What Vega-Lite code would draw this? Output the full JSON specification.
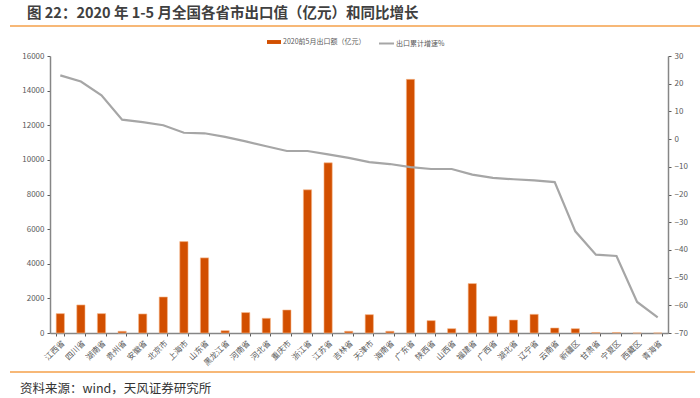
{
  "$schema": "https://vega.github.io/schema/vega-lite/v6.json",
  "width": 618,
  "height": 277,
  "autosize": {"type": "none"},
  "padding": {"left": 50, "top": 56, "right": 32, "bottom": 65},
  "background": "white",
  "config": {
    "view": {"stroke": null},
    "font": "Noto Sans CJK SC",
    "axis": {"labelFont": "Noto Sans CJK SC", "labelColor": "#595959", "labelFontSize": 8, "domainColor": "#868686", "domainWidth": 1.5, "tickColor": "#595959", "tickSize": 3, "grid": false, "title": null},
    "legend": {"labelFont": "Noto Sans CJK SC", "labelFontSize": 7, "labelColor": "#595959", "padding": 0, "title": null}
  },
  "title": {
    "text": "图 22：2020 年 1-5 月全国各省市出口值（亿元）和同比增长",
    "anchor": "start",
    "frame": "group",
    "dx": -23,
    "dy": 14,
    "offset": 11,
    "baseline": "middle",
    "fontSize": 14.5,
    "fontWeight": "bold",
    "color": "#404040",
    "font": "Noto Sans CJK SC"
  },
  "data": {
    "values": [
      {"province": "江西省", "export": 1120, "growth": 23.0},
      {"province": "四川省", "export": 1620, "growth": 20.8},
      {"province": "湖南省", "export": 1120, "growth": 15.8},
      {"province": "贵州省", "export": 100, "growth": 7.0},
      {"province": "安徽省", "export": 1100, "growth": 6.1},
      {"province": "北京市", "export": 2080, "growth": 5.0},
      {"province": "上海市", "export": 5280, "growth": 2.3},
      {"province": "山东省", "export": 4340, "growth": 2.1},
      {"province": "黑龙江省", "export": 135, "growth": 0.8},
      {"province": "河南省", "export": 1180, "growth": -0.8},
      {"province": "河北省", "export": 850, "growth": -2.6},
      {"province": "重庆市", "export": 1330, "growth": -4.3},
      {"province": "浙江省", "export": 8270, "growth": -4.3},
      {"province": "江苏省", "export": 9830, "growth": -5.5},
      {"province": "吉林省", "export": 100, "growth": -6.8},
      {"province": "天津市", "export": 1060, "growth": -8.3},
      {"province": "海南省", "export": 100, "growth": -9.0},
      {"province": "广东省", "export": 14650, "growth": -10.1},
      {"province": "陕西省", "export": 715, "growth": -10.8},
      {"province": "山西省", "export": 250, "growth": -10.8},
      {"province": "福建省", "export": 2855, "growth": -12.8},
      {"province": "广西省", "export": 965, "growth": -14.0},
      {"province": "湖北省", "export": 750, "growth": -14.5},
      {"province": "辽宁省", "export": 1080, "growth": -14.9},
      {"province": "云南省", "export": 290, "growth": -15.5},
      {"province": "新疆区", "export": 250, "growth": -33.3},
      {"province": "甘肃省", "export": 30, "growth": -41.7},
      {"province": "宁夏区", "export": 30, "growth": -42.2},
      {"province": "西藏区", "export": 3, "growth": -58.8},
      {"province": "青海省", "export": 3, "growth": -64.4}
    ]
  },
  "layer": [
    {
      "mark": {"type": "bar", "stroke": "#F7B98C", "strokeWidth": 0.6},
      "encoding": {
        "x": {"field": "province", "type": "nominal", "sort": null,
          "scale": {"paddingInner": 0.6, "paddingOuter": 0.3},
          "axis": {"labelAngle": -45, "tickBand": "extent", "labelPadding": 3}},
        "y": {"field": "export", "type": "quantitative",
          "scale": {"domain": [0, 16000], "nice": false},
          "axis": {"orient": "left", "format": "d", "values": [0, 2000, 4000, 6000, 8000, 10000, 12000, 14000, 16000], "labelPadding": 3}},
        "fill": {"datum": "2020前5月出口额（亿元）", "type": "nominal",
          "scale": {"range": ["#D24F00"]},
          "legend": {"orient": "none", "legendX": 217, "legendY": -21, "symbolType": "M-1,-0.28H1V0.28H-1Z", "symbolSize": 196, "symbolStrokeWidth": 0, "labelOffset": 2}}
      }
    },
    {
      "mark": {"type": "line", "strokeWidth": 2.2},
      "encoding": {
        "x": {"field": "province", "type": "nominal", "sort": null},
        "y": {"field": "growth", "type": "quantitative",
          "scale": {"domain": [-70, 30], "nice": false},
          "axis": {"orient": "right", "format": "d", "values": [-70, -60, -50, -40, -30, -20, -10, 0, 10, 20, 30], "labelPadding": 3}},
        "stroke": {"datum": "出口累计增速%", "type": "nominal",
          "scale": {"range": ["#A6A6A6"]},
          "legend": {"orient": "none", "legendX": 328, "legendY": -21, "symbolType": "stroke", "symbolSize": 225, "symbolStrokeWidth": 2, "labelOffset": 1}}
      }
    },
    {
      "data": {"values": [{"note": "资料来源：wind，天风证券研究所"}]},
      "mark": {"type": "text", "align": "left", "baseline": "middle", "fontSize": 12.5, "color": "#333333", "font": "Noto Sans CJK SC"},
      "encoding": {"text": {"field": "note"}, "x": {"value": -30}, "y": {"value": 333}}
    },
    {
      "data": {"values": [{"line": "top"}]},
      "mark": {"type": "rule", "color": "#F5A04A", "strokeWidth": 1.5},
      "encoding": {"x": {"value": -40}, "x2": {"value": 650}, "y": {"value": -30}}
    },
    {
      "data": {"values": [{"line": "bottom"}]},
      "mark": {"type": "rule", "color": "#F5A04A", "strokeWidth": 1.5},
      "encoding": {"x": {"value": -40}, "x2": {"value": 645}, "y": {"value": 316}}
    }
  ],
  "resolve": {"scale": {"y": "independent", "fill": "independent", "stroke": "independent"}, "legend": {"fill": "independent", "stroke": "independent"}}
}
